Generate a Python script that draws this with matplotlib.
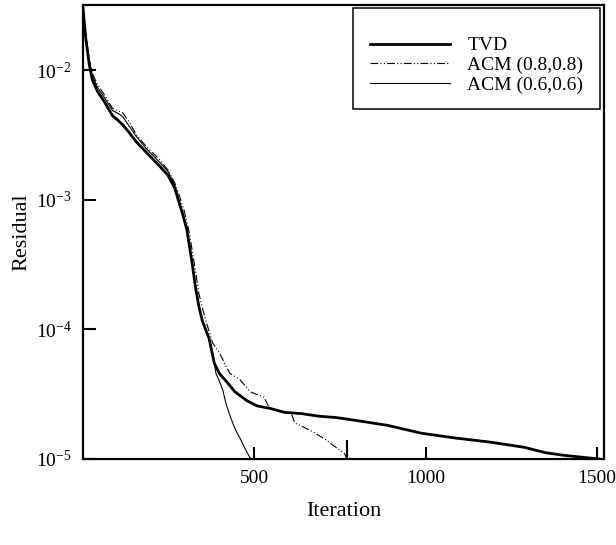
"""
Residual history: TVD vs ACM
"""
import matplotlib
matplotlib.use("Agg")
import matplotlib.pyplot as plt
from matplotlib.patches import Rectangle

plt.rcParams["font.family"] = ["Liberation Serif", "DejaVu Serif"]
plt.rcParams["mathtext.fontset"] = "stix"
plt.rcParams["font.size"] = 14

# TVD (thick line)
it_tvd = [0, 8, 18, 27, 42, 62, 86, 100, 116, 135, 155, 184, 224, 248, 268,
          278, 290, 303, 318, 328, 338, 348, 368, 383, 398, 418, 443, 478,
          508, 548, 588, 638, 688, 738, 788, 888, 988, 1088, 1188, 1288,
          1348, 1400, 1505]
res_tvd = [3.02e-2, 1.78e-2, 1.12e-2, 8.5e-3, 6.9e-3, 5.75e-3, 4.47e-3,
           4.17e-3, 3.8e-3, 3.31e-3, 2.82e-3, 2.34e-3, 1.82e-3, 1.55e-3,
           1.23e-3, 1.0e-3, 7.9e-4, 5.9e-4, 3.3e-4, 2.14e-4, 1.51e-4,
           1.17e-4, 8.5e-5, 5.5e-5, 4.57e-5, 3.98e-5, 3.31e-5, 2.82e-5,
           2.57e-5, 2.45e-5, 2.29e-5, 2.24e-5, 2.14e-5, 2.09e-5, 2.0e-5,
           1.82e-5, 1.58e-5, 1.45e-5, 1.35e-5, 1.23e-5, 1.12e-5, 1.07e-5,
           1.0e-5]

# ACM (0.8,0.8) (dash-dot-dot)
it_acm08 = [0, 8, 18, 27, 42, 62, 86, 100, 116, 135, 155, 184, 224, 248,
            268, 280, 295, 310, 325, 338, 350, 363, 378, 398, 428, 458, 488,
            528, 543, 588, 608, 618, 648, 678, 708, 738, 763, 770]
res_acm08 = [3.02e-2, 1.91e-2, 1.23e-2, 9.5e-3, 7.8e-3, 6.5e-3, 5.1e-3,
             4.9e-3, 4.7e-3, 4.0e-3, 3.2e-3, 2.6e-3, 2.04e-3, 1.70e-3,
             1.35e-3, 1.10e-3, 8.3e-4, 5.6e-4, 3.2e-4, 1.9e-4, 1.41e-4,
             1.07e-4, 7.9e-5, 6.6e-5, 4.6e-5, 4.1e-5, 3.3e-5, 3.0e-5, 2.5e-5,
             2.3e-5, 2.24e-5, 1.9e-5, 1.74e-5, 1.58e-5, 1.41e-5, 1.23e-5,
             1.10e-5, 1.0e-5]

# ACM (0.6,0.6) (thin line)
it_acm06 = [0, 8, 18, 27, 42, 62, 86, 100, 116, 135, 155, 184, 224, 248,
            268, 278, 290, 303, 318, 328, 338, 348, 368, 383, 388, 398, 408,
            418, 428, 438, 448, 458, 473, 483, 490]
res_acm06 = [3.02e-2, 1.86e-2, 1.20e-2, 9.1e-3, 7.4e-3, 6.2e-3, 4.9e-3,
             4.7e-3, 4.4e-3, 3.7e-3, 3.1e-3, 2.5e-3, 1.95e-3, 1.66e-3,
             1.29e-3, 1.05e-3, 8.1e-4, 5.9e-4, 3.3e-4, 2.14e-4, 1.51e-4,
             1.17e-4, 8.5e-5, 5.5e-5, 4.57e-5, 3.98e-5, 3.39e-5, 2.63e-5,
             2.19e-5, 1.86e-5, 1.62e-5, 1.45e-5, 1.20e-5, 1.07e-5, 1.0e-5]

xticks = [500, 1000, 1500]
yticks = [1e-5, 1e-4, 1e-3, 1e-2]

fig = plt.figure(figsize=(6.16, 5.45), dpi=100)
ax = fig.add_axes([83 / 616, 86 / 545, 521 / 616, 454 / 545])

ax.plot(it_tvd, res_tvd, color="black", lw=2.0, label="TVD")
ax.plot(it_acm08, res_acm08, color="black", lw=0.8,
        dashes=(7, 2, 1, 2, 1, 2), label="ACM (0.8,0.8)")
ax.plot(it_acm06, res_acm06, color="black", lw=0.8, label="ACM (0.6,0.6)")
# convergence mark at the end of the ACM (0.8,0.8) run
ax.plot(it_acm08[-1:], res_acm08[-1:], ls="none", color="black",
        marker="|", markersize=28, markeredgewidth=1.5)

ax.set_yscale("log")
ax.set_xlim(0, 1520)
ax.set_ylim(1e-5, 3.2e-2)
ax.set_xticks(xticks)
ax.set_yticks(yticks)
ax.minorticks_off()
ax.tick_params(direction="in", length=9, width=1.5, pad=8, labelsize=14)
for s in ax.spines.values():
    s.set_linewidth(1.6)

ax.set_xlabel("Iteration", fontsize=16, labelpad=11)
ax.set_ylabel("Residual", fontsize=16, labelpad=3)

ax.add_patch(Rectangle((0.518, 0.772), 0.475, 0.221, transform=ax.transAxes,
                       fill=False, lw=1.1, ec="black", zorder=5))
ax.legend(loc="upper left", bbox_to_anchor=(0.551, 0.93), frameon=False,
          borderpad=0, borderaxespad=0, handlelength=4.1, handletextpad=0.9,
          labelspacing=0.1, fontsize=14)

fig.savefig("out.png", dpi=100)
